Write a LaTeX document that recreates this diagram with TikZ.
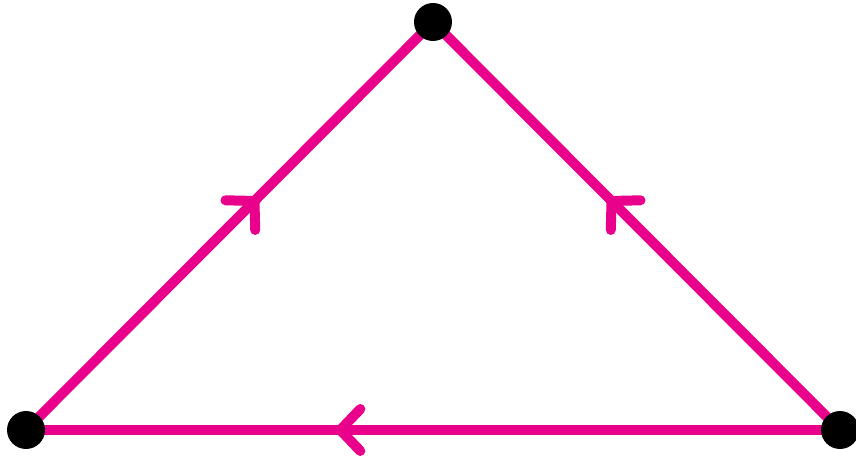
\documentclass[tikz,border=0pt]{standalone}
\usepackage{tikz}
\usetikzlibrary{arrows.meta,decorations.markings,backgrounds}

\definecolor{loopmagenta}{RGB}{233,0,139}

\tikzset{
  vertex/.style={circle, fill=black, inner sep=0pt, minimum size=0.76cm},
  side/.style={draw=loopmagenta, line width=0.2cm, postaction={decorate},
    decoration={markings, mark=at position #1 with
      {\arrow[loopmagenta]{Straight Barb[length=0.4cm, width=0.84cm, round]}}}}
}

\begin{document}
\begin{tikzpicture}[x=0.02cm, y=-0.02cm]
\useasboundingbox (0,0) rectangle (856,459);

% Vertices
\node[vertex] (left)  at (26,430)  {};
\node[vertex] (top)   at (433,22)  {};
\node[vertex] (right) at (840,430) {};

% Sides with direction marks
\begin{scope}[on background layer]
\draw[side=0.57] (left.center)  -- (top.center);
\draw[side=0.57] (right.center) -- (top.center);
\draw[side=0.62] (right.center) -- (left.center);
\end{scope}
\end{tikzpicture}
\end{document}
